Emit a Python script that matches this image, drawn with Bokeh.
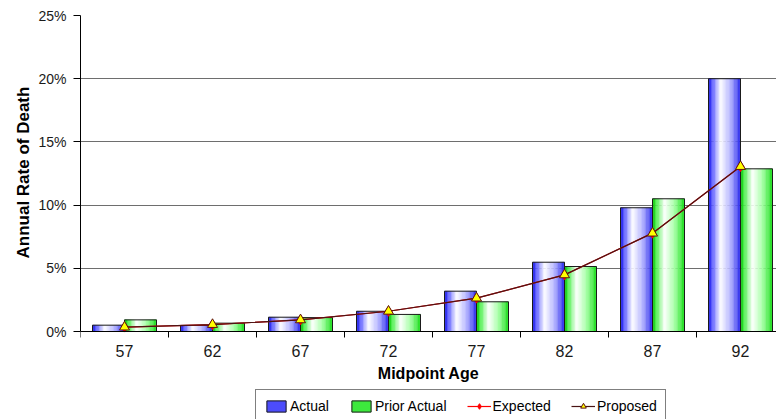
import numpy as np
from bokeh.plotting import figure
from bokeh.models import (Range1d, FixedTicker, NumeralTickFormatter, Legend,
                          LegendItem, ColumnDataSource, Title)
from bokeh.embed import file_html
from bokeh.resources import INLINE

# ---- data ----
ages = ["57", "62", "67", "72", "77", "82", "87", "92"]
actual = [0.50, 0.48, 1.13, 1.60, 3.19, 5.48, 9.79, 20.0]
prior_actual = [0.92, 0.66, 1.10, 1.35, 2.35, 5.14, 10.50, 12.87]
expected = [0.35, 0.55, 0.92, 1.60, 2.64, 4.48, 7.78, 13.05]
proposed = [0.35, 0.55, 0.92, 1.60, 2.64, 4.48, 7.78, 13.05]
y_ticks = [0, 5, 10, 15, 20, 25]

FONT = "Liberation Sans"
W, H = 776, 419
BORDER_L, BORDER_T = 80, 15
CAT_PX = 88.0
PLOT_H = 316.0          # px from 0% to 25%
frame_w = W - BORDER_L
frame_h = H - BORDER_T
x_end = frame_w / CAT_PX
y_top = 0.25
y_start = -(frame_h - PLOT_H) / PLOT_H * y_top

p = figure(width=W, height=H, output_backend="svg", toolbar_location=None,
           x_range=Range1d(0, x_end), y_range=Range1d(y_start, y_top),
           min_border_left=BORDER_L, min_border_right=0,
           min_border_top=BORDER_T, min_border_bottom=0,
           background_fill_color="white", border_fill_color="white")
p.outline_line_color = None
p.xgrid.visible = False
p.ygrid.grid_line_color = "#6e6e6e"
p.ygrid.grid_line_width = 1

n = len(ages)
centers = np.arange(n) + 0.5
bar_w = 32.0 / CAT_PX

def grad(stops, t):
    ts = [s[0] for s in stops]
    out = []
    for k in range(3):
        out.append(int(round(np.interp(t, ts, [s[1][k] for s in stops]))))
    return "#%02x%02x%02x" % tuple(out)

blue_stops = [(0, (15, 15, 225)), (0.12, (85, 85, 255)), (0.38, (255, 255, 255)),
              (0.7, (175, 175, 255)), (1.0, (35, 35, 235))]
green_stops = [(0, (0, 185, 0)), (0.12, (70, 240, 70)), (0.38, (255, 255, 255)),
               (0.7, (160, 255, 160)), (1.0, (20, 220, 20))]

NS = 24
def gradient_bars(lefts, vals, stops):
    L, R, T, C = [], [], [], []
    for l, v in zip(lefts, vals):
        edges = np.linspace(l, l + bar_w, NS + 1)
        for j in range(NS):
            L.append(edges[j]); R.append(edges[j + 1]); T.append(v / 100.0)
            C.append(grad(stops, (j + 0.5) / NS))
    src = ColumnDataSource(dict(left=L, right=R, top=T, color=C))
    g = p.quad(left="left", right="right", top="top", bottom=0, source=src,
               fill_color="color", line_color="color", line_width=0.3)
    o = p.quad(left=list(lefts), right=list(np.array(lefts) + bar_w),
               top=[v / 100.0 for v in vals], bottom=0,
               fill_color=None, line_color="#1a1a1a", line_width=1)
    return g, o

g_act, o_act = gradient_bars(centers - bar_w, actual, blue_stops)
g_pri, o_pri = gradient_bars(centers, prior_actual, green_stops)

exp_y = [v / 100.0 for v in expected]
pro_y = [v / 100.0 for v in proposed]
l_exp = p.line(centers, exp_y, line_color="#ff0000", line_width=1.2)
m_exp = p.scatter(centers, exp_y, marker="diamond", size=10,
                  fill_color="#ff0000", line_color="#ff0000")
l_pro = p.line(centers, pro_y, line_color="#4a1414", line_width=1.2)
m_pro = p.scatter(centers, pro_y, marker="triangle", size=10,
                  fill_color="#ffff00", line_color="#5a1010", line_width=1)

# axes
xa = p.xaxis[0]
xa.fixed_location = 0
xa.ticker = FixedTicker(ticks=list(centers), minor_ticks=list(np.arange(0, n + 1)))
xa.major_label_overrides = {float(c): a for c, a in zip(centers, ages)}
xa.major_tick_out = 0
xa.major_tick_in = 0
xa.minor_tick_out = 6
xa.minor_tick_in = 0
xa.minor_tick_line_color = "black"
xa.axis_line_color = "black"
xa.major_label_text_font = FONT
xa.major_label_text_font_size = "16px"
xa.major_label_text_color = "#1a1a1a"
xa.major_label_standoff = 7
xa.axis_label = "Midpoint Age"
xa.axis_label_text_font = FONT
xa.axis_label_text_font_style = "bold"
xa.axis_label_text_font_size = "16px"
xa.axis_label_text_color = "black"
xa.axis_label_standoff = 5

ya = p.yaxis[0]
ya.bounds = (0, y_top)
ya.ticker = FixedTicker(ticks=[t / 100.0 for t in y_ticks], minor_ticks=[])
ya.formatter = NumeralTickFormatter(format="0%")
ya.major_tick_out = 7
ya.major_tick_in = 0
ya.major_tick_line_color = "black"
ya.axis_line_color = "black"
ya.major_label_text_font = FONT
ya.major_label_text_font_size = "14px"
ya.major_label_text_color = "#1a1a1a"
ya.major_label_standoff = 7
p.ygrid.ticker = ya.ticker

# y-axis title, centred on the 0..25% span rather than the whole frame
ytitle = Title(text="Annual Rate of Death", align="left",
               offset=frame_h - PLOT_H + 73,
               text_font=FONT, text_font_style="bold", text_font_size="17px",
               text_color="black", standoff=6)
p.add_layout(ytitle, "left")

legend = Legend(items=[
    LegendItem(label="Actual", renderers=[g_act, o_act], index=2),
    LegendItem(label="Prior Actual", renderers=[g_pri, o_pri], index=2),
    LegendItem(label="Expected", renderers=[l_exp, m_exp]),
    LegendItem(label="Proposed", renderers=[l_pro, m_pro]),
], orientation="horizontal", location=(175, -4))
legend.margin = 0
legend.padding = 8
legend.spacing = 20
legend.label_standoff = 2
legend.glyph_width = 24
legend.glyph_height = 14
legend.label_height = 14
legend.label_text_font = FONT
legend.label_text_font_size = "14px"
legend.label_text_color = "black"
legend.border_line_color = "black"
legend.border_line_width = 1
legend.background_fill_color = "white"
legend.background_fill_alpha = 1
p.add_layout(legend, "center")

open("out.html", "w").write(file_html(p, INLINE))
